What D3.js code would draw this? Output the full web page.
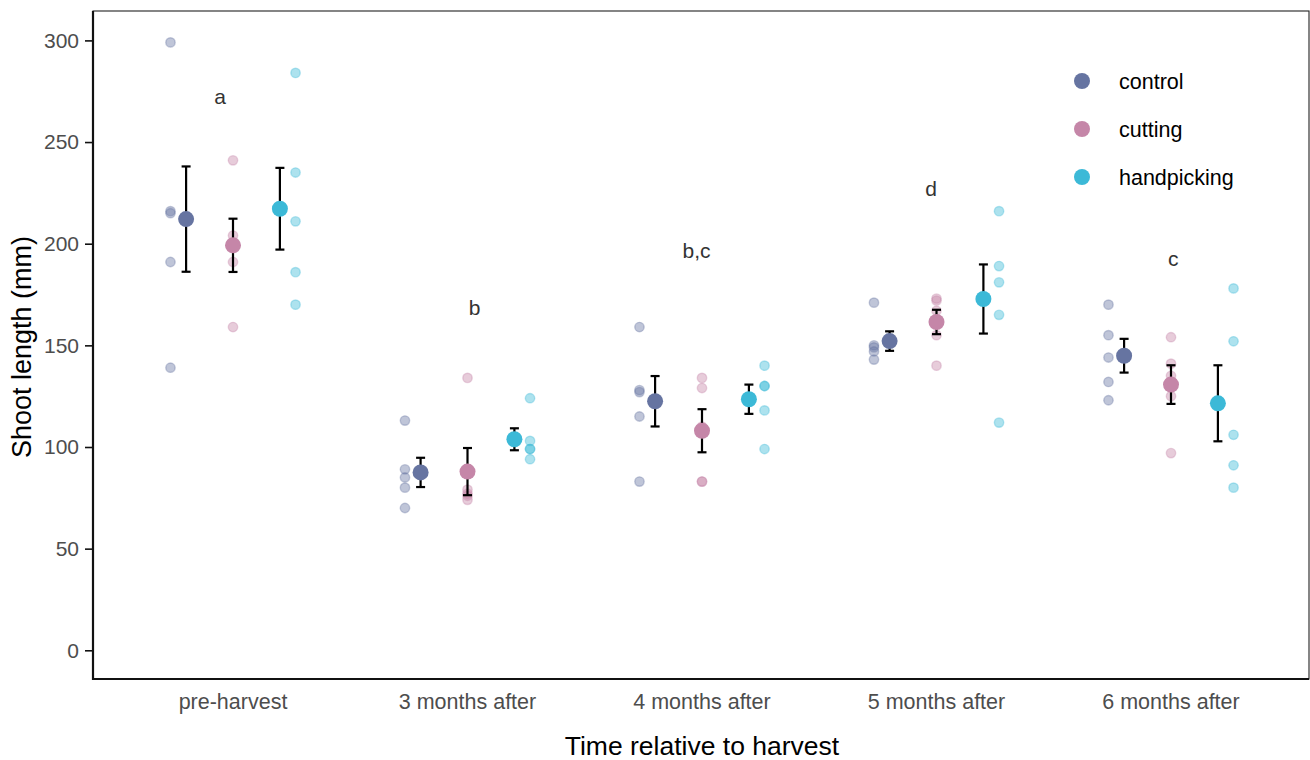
<!DOCTYPE html>
<html>
<head>
<meta charset="utf-8">
<script src="https://cdn.jsdelivr.net/npm/d3@7"></script>
<style>
  body { margin: 0; background: #fff; }
  text { font-family: "Liberation Sans", Arial, sans-serif; }
</style>
</head>
<body>
<div id="svg_container"></div>
<script>

/* -----------------------
data
------------------------- */

var categories = ['pre-harvest', '3 months after', '4 months after', '5 months after', '6 months after'];
var groups = ['control', 'cutting', 'handpicking'];

// raw shoot lengths (mm), one array per time point
var raw_control = [
  [299, 216, 215, 191, 139],
  [113, 89, 85, 80, 70],
  [159, 128, 127, 115, 83],
  [171, 150, 149, 147, 143],
  [170, 155, 144, 132, 123]
];
var raw_cutting = [
  [241, 204, 200, 191, 159],
  [134, 79, 77, 76, 74],
  [134, 129, 110, 83, 83],
  [173, 172, 167, 155, 140],
  [154, 141, 135, 125, 97]
];
var raw_handpicking = [
  [284, 235, 211, 186, 170],
  [124, 103, 99, 99, 94],
  [140, 130, 130, 118, 99],
  [216, 189, 181, 165, 112],
  [178, 152, 106, 91, 80]
];

// means and standard errors
var mean_control = [212.1, 87.5, 122.5, 152.1, 144.9];
var mean_cutting = [199.2, 87.9, 108.0, 161.5, 130.7];
var mean_handpicking = [217.2, 103.8, 123.5, 172.8, 121.5];

var se_control = [25.9, 7.2, 12.4, 4.8, 8.3];
var se_cutting = [13.1, 11.6, 10.6, 6.0, 9.5];
var se_handpicking = [20.1, 5.4, 7.2, 17.0, 18.7];

// significance letters
var letters = ['a', 'b', 'b,c', 'd', 'c'];
var letter_x = [0.945, 2.03, 2.977, 3.977, 5.01];
var letter_y = [268.7, 165, 193, 223.5, 189];

var y_ticks = [0, 50, 100, 150, 200, 250, 300];

/* -----------------------
main variables
------------------------- */

var width = 1310,
  height = 760;

var plot_l = 93, plot_r = 1309, plot_t = 11, plot_b = 679;

var c_group = { control: '#6674a1', cutting: '#c586a8', handpicking: '#3cb9d7' };
var c_text = '#4d4d4d';

var raw = { control: raw_control, cutting: raw_cutting, handpicking: raw_handpicking };
var means = { control: mean_control, cutting: mean_cutting, handpicking: mean_handpicking };
var ses = { control: se_control, cutting: se_cutting, handpicking: se_handpicking };

var raw_dodge = 0.8 / 3,
  mean_dodge = 0.2;

/* -----------------------
set plot
------------------------- */

var svg = d3.select('#svg_container')
  .append('svg')
  .attr('width', width)
  .attr('height', height);

var x = d3.scaleLinear().domain([1, 5]).range([233, 1171]);
var y = d3.scaleLinear().domain([0, 300]).range([650.3, 40.4]);

// panel border (thin)
svg.append('rect')
  .attr('x', plot_l)
  .attr('y', plot_t)
  .attr('width', plot_r - plot_l)
  .attr('height', plot_b - plot_t)
  .attr('fill', 'none')
  .attr('stroke', '#222')
  .attr('stroke-width', 1.1);

// y axis
var y_axis = svg.append('g')
  .attr('transform', 'translate(' + plot_l + ',0)')
  .call(d3.axisLeft(y).tickValues(y_ticks).tickSize(8).tickPadding(6));

y_axis.select('.domain').remove();
y_axis.selectAll('.tick line').attr('stroke', '#111').attr('stroke-width', 1.6);
y_axis.selectAll('.tick text')
  .attr('fill', c_text)
  .attr('font-size', '21px')
  .attr('font-family', '"Liberation Sans", Arial, sans-serif');

// thick axis lines
svg.append('line')
  .attr('x1', plot_l).attr('x2', plot_l)
  .attr('y1', plot_t).attr('y2', plot_b + 1)
  .attr('stroke', '#111').attr('stroke-width', 2.2);
svg.append('line')
  .attr('x1', plot_l - 1).attr('x2', plot_r)
  .attr('y1', plot_b).attr('y2', plot_b)
  .attr('stroke', '#111').attr('stroke-width', 2.2);

// x labels (no ticks)
svg.selectAll('.x_label')
  .data(categories)
  .enter()
  .append('text')
  .attr('class', 'x_label')
  .attr('x', function (d, i) { return x(i + 1); })
  .attr('y', 709)
  .attr('text-anchor', 'middle')
  .attr('font-size', '21.5px')
  .attr('fill', c_text)
  .text(function (d) { return d; });

// axis titles
svg.append('text')
  .attr('x', 702)
  .attr('y', 755)
  .attr('text-anchor', 'middle')
  .attr('font-size', '26.5px')
  .attr('fill', '#000')
  .text('Time relative to harvest');

svg.append('text')
  .attr('transform', 'translate(31,347) rotate(-90)')
  .attr('text-anchor', 'middle')
  .attr('font-size', '27px')
  .attr('fill', '#000')
  .text('Shoot length (mm)');

/* -----------------------
visualize elements
------------------------- */

// raw points
groups.forEach(function (g, gi) {
  var pts = [];
  raw[g].forEach(function (vals, ci) {
    vals.forEach(function (v) { pts.push({ c: ci + 1, v: v }); });
  });
  svg.append('g')
    .attr('class', 'raw_' + g)
    .selectAll('circle')
    .data(pts)
    .enter()
    .append('circle')
    .attr('cx', function (d) { return x(d.c + (gi - 1) * raw_dodge); })
    .attr('cy', function (d) { return y(d.v); })
    .attr('r', 4.7)
    .attr('fill', c_group[g])
    .attr('fill-opacity', 0.42)
    .attr('stroke', c_group[g])
    .attr('stroke-opacity', 0.36)
    .attr('stroke-width', 1.4);
});

// error bars
groups.forEach(function (g, gi) {
  var bars = svg.append('g')
    .attr('class', 'err_' + g)
    .selectAll('g')
    .data(means[g])
    .enter()
    .append('g')
    .attr('transform', function (d, i) {
      return 'translate(' + x(i + 1 + (gi - 1) * mean_dodge) + ',0)';
    });

  bars.append('line')
    .attr('x1', 0).attr('x2', 0)
    .attr('y1', function (d, i) { return y(d + ses[g][i]); })
    .attr('y2', function (d, i) { return y(d - ses[g][i]); })
    .attr('stroke', '#000').attr('stroke-width', 2.2);

  bars.append('line')
    .attr('x1', -4.5).attr('x2', 4.5)
    .attr('y1', function (d, i) { return y(d + ses[g][i]); })
    .attr('y2', function (d, i) { return y(d + ses[g][i]); })
    .attr('stroke', '#000').attr('stroke-width', 2.2);

  bars.append('line')
    .attr('x1', -4.5).attr('x2', 4.5)
    .attr('y1', function (d, i) { return y(d - ses[g][i]); })
    .attr('y2', function (d, i) { return y(d - ses[g][i]); })
    .attr('stroke', '#000').attr('stroke-width', 2.2);
});

// mean points
groups.forEach(function (g, gi) {
  svg.append('g')
    .attr('class', 'mean_' + g)
    .selectAll('circle')
    .data(means[g])
    .enter()
    .append('circle')
    .attr('cx', function (d, i) { return x(i + 1 + (gi - 1) * mean_dodge); })
    .attr('cy', function (d) { return y(d); })
    .attr('r', 8)
    .attr('fill', c_group[g]);
});

// letters
svg.selectAll('.letter')
  .data(letters)
  .enter()
  .append('text')
  .attr('class', 'letter')
  .attr('x', function (d, i) { return x(letter_x[i]); })
  .attr('y', function (d, i) { return y(letter_y[i]); })
  .attr('text-anchor', 'middle')
  .attr('font-size', '21px')
  .attr('fill', '#333')
  .text(function (d) { return d; });

/* -----------------------
legend
------------------------- */

var legend = svg.append('g')
  .attr('class', 'legend')
  .attr('transform', 'translate(1082,81)');

var item = legend.selectAll('.item')
  .data(groups)
  .enter()
  .append('g')
  .attr('class', 'item')
  .attr('transform', function (d, i) { return 'translate(0,' + (i * 48) + ')'; });

item.append('circle')
  .attr('r', 8)
  .attr('fill', function (d) { return c_group[d]; });

item.append('text')
  .attr('x', 37)
  .attr('y', 7.5)
  .attr('font-size', '21.5px')
  .attr('fill', '#000')
  .text(function (d) { return d; });

</script>
</body>
</html>
